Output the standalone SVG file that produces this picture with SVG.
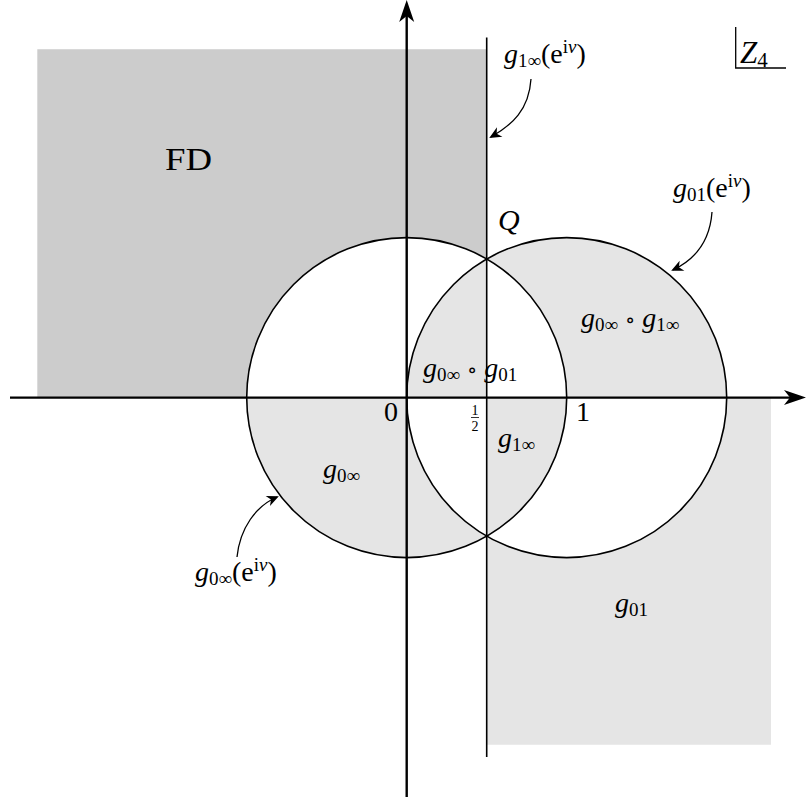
<svg xmlns="http://www.w3.org/2000/svg" width="806" height="800" viewBox="0 0 806 800">
<defs>
<style>
.dark{fill:#cccccc;stroke:none}
.light{fill:#e5e5e5;stroke:none}
.curve{fill:none;stroke:#000;stroke-width:1.6}
.axis{fill:none;stroke:#000;stroke-width:2.4}
.lbl{fill:none;stroke:#000;stroke-width:1.3}
text{font-family:"Liberation Serif","DejaVu Serif",serif;font-size:28px;fill:#000}
.it{font-style:italic}
.sub{font-size:19px}
.op{font-family:"DejaVu Serif","Liberation Serif",serif;font-size:21px}
</style>
<marker id="axhead" viewBox="-13 -8 24 16" refX="0" refY="0" markerWidth="24" markerHeight="16" markerUnits="userSpaceOnUse" orient="auto">
<path d="M10,0 L-12,-7.5 L-6,0 L-12,7.5 Z" fill="#000"/>
</marker>
<marker id="lhead" viewBox="-12 -7 16 14" refX="0" refY="0" markerWidth="16" markerHeight="14" markerUnits="userSpaceOnUse" orient="auto">
<path d="M2,0 L-10,-5.5 L-6.5,0 L-10,5.5 Z" fill="#000"/>
</marker>
</defs>
<g id="regions">
<path id="fd" class="dark" d="M37.3,49.3 H486.7 V259.04 A160,160 0 0 0 246.7,397.6 H37.3 Z"/>
<path class="light" d="M486.7,259.04 A160,160 0 0 0 406.7,397.6 H486.7 Z"/>
<path class="light" d="M566.7,397.6 A160,160 0 0 0 486.7,259.04 A160,160 0 0 1 726.7,397.6 Z"/>
<path class="light" d="M246.7,397.6 H406.7 A160,160 0 0 0 486.7,536.16 A160,160 0 0 1 246.7,397.6 Z"/>
<path class="light" d="M486.7,397.6 H566.7 A160,160 0 0 1 486.7,536.16 Z"/>
<path class="light" d="M486.7,536.16 A160,160 0 0 0 726.7,397.6 H771 V744.7 H486.7 Z"/>
</g>
<g id="curves">
<circle id="circle0inf" class="curve" cx="406.7" cy="397.6" r="160"/>
<circle id="circle01" class="curve" cx="566.7" cy="397.6" r="160"/>
<line id="line1inf" class="curve" x1="486.7" y1="37.5" x2="486.7" y2="757"/>
</g>
<g id="axes">
<line class="axis" x1="10" y1="397.6" x2="796" y2="397.6" marker-end="url(#axhead)"/>
<line class="axis" x1="406.7" y1="797" x2="406.7" y2="10" marker-end="url(#axhead)"/>
</g>
<g id="connectors">
<path class="lbl" d="M531,79 C529,110 512,125 491,137" marker-end="url(#lhead)"/>
<path class="lbl" d="M712,212 C710,240 696,259 673,270" marker-end="url(#lhead)"/>
<path class="lbl" d="M237,557 C240,528 256,506 277,497" marker-end="url(#lhead)"/>
</g>
<g id="labels">
<text id="fd-label" x="165" y="170" style="font-size:32px" textLength="47" lengthAdjust="spacingAndGlyphs">FD</text>
<text id="q-label" x="498" y="230" class="it" style="font-size:30px">Q</text>
<g id="z4">
<path class="lbl" d="M735.7,27 V68 H786"/>
<text x="740" y="63" style="font-size:31px"><tspan class="it">Z</tspan><tspan dy="4" style="font-size:21px">4</tspan></text>
</g>
<text id="lab-g1inf-e" x="504" y="63"><tspan class="it">g</tspan><tspan class="sub" dy="4">1∞</tspan><tspan dy="-4">(e</tspan><tspan class="sub" dy="-10">i</tspan><tspan class="sub it">ν</tspan><tspan dy="10">)</tspan></text>
<text id="lab-g01-e" x="673" y="197"><tspan class="it">g</tspan><tspan class="sub" dy="4">01</tspan><tspan dy="-4">(e</tspan><tspan class="sub" dy="-10">i</tspan><tspan class="sub it">ν</tspan><tspan dy="10">)</tspan></text>
<text id="lab-g0inf-e" x="195" y="581"><tspan class="it">g</tspan><tspan class="sub" dy="4">0∞</tspan><tspan dy="-4">(e</tspan><tspan class="sub" dy="-10">i</tspan><tspan class="sub it">ν</tspan><tspan dy="10">)</tspan></text>
<text id="lab-g0inf-g1inf" x="581" y="327"><tspan class="it">g</tspan><tspan class="sub" dy="4">0∞</tspan><tspan class="op" dx="7" dy="-4">∘</tspan><tspan class="it" dx="7">g</tspan><tspan class="sub" dy="4">1∞</tspan></text>
<text id="lab-g0inf-g01" x="423" y="377"><tspan class="it">g</tspan><tspan class="sub" dy="4">0∞</tspan><tspan class="op" dx="7" dy="-4">∘</tspan><tspan class="it" dx="7">g</tspan><tspan class="sub" dy="4">01</tspan></text>
<text id="lab-g1inf" x="498" y="447"><tspan class="it">g</tspan><tspan class="sub" dy="4">1∞</tspan></text>
<text id="lab-g0inf" x="323" y="478"><tspan class="it">g</tspan><tspan class="sub" dy="4">0∞</tspan></text>
<text id="lab-g01" x="615" y="612"><tspan class="it">g</tspan><tspan class="sub" dy="4">01</tspan></text>
<text id="tick0" x="391" y="421" text-anchor="middle">0</text>
<text id="tick1" x="583" y="421" text-anchor="middle">1</text>
<g id="tick-half">
<text x="475" y="415" text-anchor="middle" style="font-size:14px">1</text>
<line x1="471" y1="417.5" x2="479" y2="417.5" stroke="#000" stroke-width="0.8"/>
<text x="475" y="431" text-anchor="middle" style="font-size:14px">2</text>
</g>
</g>
</svg>
